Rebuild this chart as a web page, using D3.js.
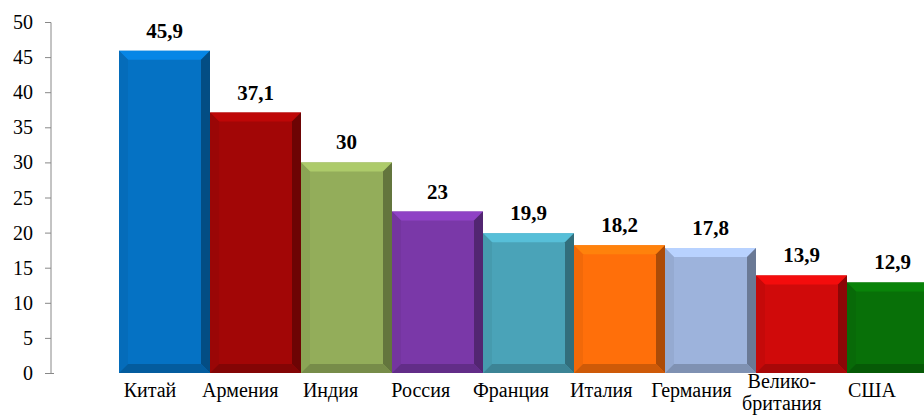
<!DOCTYPE html>
<meta charset="utf-8">
<style>
  body { margin: 0; background: #fff; }
</style>
<script src="https://d3js.org/d3.v7.min.js"></script>
<div id="chart"></div>
<script>

// data
var countries = ["Китай", "Армения", "Индия", "Россия", "Франция", "Италия", "Германия", "Велико-\nбритания", "США"];
var values = [45.9, 37.1, 30, 23, 19.9, 18.2, 17.8, 13.9, 12.9];
var valueLabels = ["45,9", "37,1", "30", "23", "19,9", "18,2", "17,8", "13,9", "12,9"];
var colors = ["#0572c4", "#a20606", "#93ad5a", "#7a38a8", "#4aa3b8", "#ff6f0a", "#9db3dc", "#d00a0a", "#087008"];
var yTicks = [0, 5, 10, 15, 20, 25, 30, 35, 40, 45, 50];

var W = 924, H = 416;
var fontFam = "'Times New Roman'";

var svg = d3.select("#chart").append("svg")
    .attr("width", W)
    .attr("height", H);

var x = d3.scaleBand()
    .domain(countries)
    .range([119, 119 + 91 * countries.length])
    .padding(0);

// category labels sit a little left of the bar centres, as in the source
var xl = d3.scalePoint()
    .domain(countries)
    .range([150, 872]);

var y = d3.scaleLinear()
    .domain([0, 50])
    .range([373, 22]);

// bars with bevel
var bev = 9;
var bars = svg.append("g").selectAll("g.bar")
  .data(values)
  .enter().append("g")
    .attr("class", "bar");

bars.each(function(d, i) {
  var g = d3.select(this);
  var x0 = x(countries[i]), w = x.bandwidth();
  var y0 = y(d), y1 = y(0);
  var c = d3.color(colors[i]);
  var x1 = x0 + w;
  g.append("rect")
    .attr("x", x0).attr("y", y0)
    .attr("width", w).attr("height", y1 - y0)
    .attr("fill", c);
  // top bevel
  g.append("path")
    .attr("d", "M" + x0 + "," + y0 + "L" + x1 + "," + y0 + "L" + (x1 - bev) + "," + (y0 + bev) + "L" + (x0 + bev) + "," + (y0 + bev) + "Z")
    .attr("fill", c.brighter(0.45));
  // left bevel
  g.append("path")
    .attr("d", "M" + x0 + "," + y0 + "L" + (x0 + bev) + "," + (y0 + bev) + "L" + (x0 + bev) + "," + (y1 - bev) + "L" + x0 + "," + y1 + "Z")
    .attr("fill", c.darker(0.15));
  // right bevel
  g.append("path")
    .attr("d", "M" + x1 + "," + y0 + "L" + (x1 - bev) + "," + (y0 + bev) + "L" + (x1 - bev) + "," + (y1 - bev) + "L" + x1 + "," + y1 + "Z")
    .attr("fill", c.darker(1.1));
  // bottom bevel
  g.append("path")
    .attr("d", "M" + x0 + "," + y1 + "L" + (x0 + bev) + "," + (y1 - bev) + "L" + (x1 - bev) + "," + (y1 - bev) + "L" + x1 + "," + y1 + "Z")
    .attr("fill", c.darker(0.6));
});

// y axis: ticks drawn by d3, labels drawn as plain texts
var yAxis = d3.axisLeft(y).tickValues(yTicks).tickSize(6).tickFormat("");
var gy = svg.append("g")
    .attr("transform", "translate(51,0)")
    .call(yAxis);
gy.select(".domain").attr("stroke", "#888").attr("d", "M-6,22.5H0V373.5H3");
gy.selectAll(".tick line").attr("stroke", "#888");

svg.selectAll("text.ytick")
  .data(yTicks)
  .enter().append("text")
    .attr("class", "ytick")
    .attr("x", 33)
    .attr("y", function(d) { return y(d) + 7; })
    .attr("text-anchor", "end")
    .style("font-family", fontFam)
    .style("font-size", "20px")
    .text(function(d) { return d; });

// value labels
svg.selectAll("text.val")
  .data(values)
  .enter().append("text")
    .attr("class", "val")
    .attr("x", function(d, i) { return x(countries[i]) + x.bandwidth() / 2; })
    .attr("y", function(d) { return y(d) - 13; })
    .attr("text-anchor", "middle")
    .style("font-family", fontFam)
    .style("font-size", "21px")
    .style("font-weight", "bold")
    .text(function(d, i) { return valueLabels[i]; });

// category labels
var cat = svg.selectAll("text.cat")
  .data(countries)
  .enter().append("text")
    .attr("class", "cat")
    .attr("x", function(d) { return xl(d); })
    .attr("y", function(d) { return d.indexOf("\n") >= 0 ? 388 : 397; })
    .attr("text-anchor", "middle")
    .style("font-family", fontFam)
    .style("font-size", "20px");

cat.each(function(d) {
  var parts = d.split("\n");
  var t = d3.select(this);
  parts.forEach(function(p, k) {
    t.append("tspan")
      .attr("x", t.attr("x"))
      .attr("dy", k === 0 ? 0 : 22)
      .text(p);
  });
});

</script>
